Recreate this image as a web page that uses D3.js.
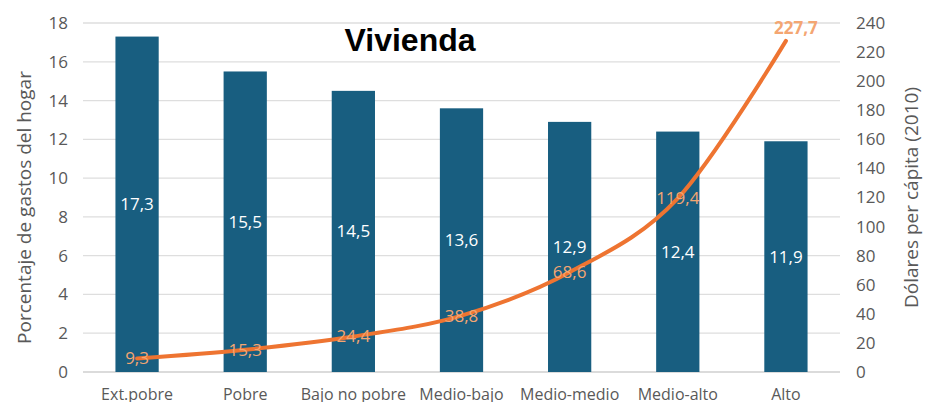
<!DOCTYPE html>
<html>
<head>
<meta charset="utf-8">
<script src="https://cdn.jsdelivr.net/npm/d3@7"></script>
<style>
  body { margin: 0; background: #fff; }
  text { font-family: "Open Sans", "Noto Sans", sans-serif; }
</style>
</head>
<body>
<div id="chart"></div>
<script>
// data
var categories = ["Ext.pobre", "Pobre", "Bajo no pobre", "Medio-bajo", "Medio-medio", "Medio-alto", "Alto"];
var pctGasto = [17.3, 15.5, 14.5, 13.6, 12.9, 12.4, 11.9];
var dolares = [9.3, 15.3, 24.4, 38.8, 68.6, 119.4, 227.7];
var leftTicks = [0, 2, 4, 6, 8, 10, 12, 14, 16, 18];
var rightTicks = [0, 20, 40, 60, 80, 100, 120, 140, 160, 180, 200, 220, 240];

var svgWidth = 934, svgHeight = 402;
var margin = { top: 23, right: 94, bottom: 30, left: 83 };
var width = svgWidth - margin.left - margin.right;
var height = svgHeight - margin.top - margin.bottom;

var fmt = function(v) { return d3.format(".1f")(v).replace(".", ","); };

var svg = d3.select("#chart").append("svg")
  .attr("width", svgWidth)
  .attr("height", svgHeight);
var chartGroup = svg.append("g")
  .attr("transform", `translate(${margin.left}, ${margin.top})`);

// scales
var x = d3.scaleBand().domain(categories).range([0, width]).paddingInner(0.6).paddingOuter(0.3);
var yLeft = d3.scaleLinear().domain([0, 18]).range([height, 0]);
var yRight = d3.scaleLinear().domain([0, 240]).range([height, 0]);

// gridlines
chartGroup.append("g").selectAll("line")
  .data(leftTicks)
  .enter().append("line")
  .attr("x1", 0).attr("x2", width)
  .attr("y1", d => yLeft(d)).attr("y2", d => yLeft(d))
  .attr("stroke", d => d === 0 ? "#cfcfcf" : "#dedede")
  .attr("stroke-width", 1.3);

// axes
var leftAxis = d3.axisLeft(yLeft).tickValues(leftTicks).tickSize(0).tickPadding(15);
var rightAxis = d3.axisRight(yRight).tickValues(rightTicks).tickSize(0).tickPadding(16);
var bottomAxis = d3.axisBottom(x).tickSize(0).tickPadding(17);

var gl = chartGroup.append("g").call(leftAxis);
var gr = chartGroup.append("g").attr("transform", `translate(${width}, 0)`).call(rightAxis);
var gb = chartGroup.append("g").attr("transform", `translate(0, ${height})`).call(bottomAxis);
[gl, gr, gb].forEach(function(g) {
  g.select(".domain").remove();
  g.selectAll("text").attr("fill", "#595959").style("font-size", "17px")
    .style("font-family", "'Open Sans', sans-serif");
});
gb.selectAll("text").style("font-size", "16px");

// bars
chartGroup.selectAll("rect.bar")
  .data(pctGasto)
  .enter().append("rect")
  .attr("class", "bar")
  .attr("x", (d, i) => x(categories[i]))
  .attr("y", d => yLeft(d))
  .attr("width", x.bandwidth())
  .attr("height", d => height - yLeft(d))
  .attr("fill", "#185e80");

chartGroup.selectAll("text.barlabel")
  .data(pctGasto)
  .enter().append("text")
  .attr("class", "barlabel")
  .attr("x", (d, i) => x(categories[i]) + x.bandwidth() / 2)
  .attr("y", d => (yLeft(d) + height) / 2)
  .attr("dy", "0.35em")
  .attr("text-anchor", "middle")
  .attr("fill", "#ffffff")
  .style("font-size", "17px")
  .text(d => fmt(d));

// line
var line = d3.line()
  .x((d, i) => x(categories[i]) + x.bandwidth() / 2)
  .y(d => yRight(d))
  .curve(d3.curveCardinal.tension(0));

chartGroup.append("path")
  .datum(dolares)
  .attr("d", line)
  .attr("fill", "none")
  .attr("stroke", "#ee7431")
  .attr("stroke-width", 4)
  .attr("stroke-linecap", "round");

chartGroup.selectAll("text.linelabel")
  .data(dolares)
  .enter().append("text")
  .attr("class", "linelabel")
  .attr("x", (d, i) => x(categories[i]) + x.bandwidth() / 2 + (i === dolares.length - 1 ? 10 : 0))
  .attr("y", (d, i) => yRight(d) + (i === dolares.length - 1 ? -13 : 0))
  .attr("dy", "0.35em")
  .attr("text-anchor", "middle")
  .attr("fill", "#f4a672")
  .style("font-size", "17px")
  .style("font-weight", (d, i) => i === dolares.length - 1 ? "bold" : "normal")
  .text(d => fmt(d));

// title
svg.append("text")
  .attr("x", 410)
  .attr("y", 51)
  .attr("text-anchor", "middle")
  .attr("fill", "#000")
  .style("font-size", "32px")
  .style("font-weight", "bold")
  .style("font-family", "'Liberation Sans', Arial, sans-serif")
  .text("Vivienda");

// axis titles
svg.append("text")
  .attr("transform", `translate(31, ${margin.top + height / 2 + 10}) rotate(-90)`)
  .attr("text-anchor", "middle")
  .attr("fill", "#595959")
  .style("font-size", "19px")
  .text("Porcentaje de gastos del hogar");

svg.append("text")
  .attr("transform", `translate(911, ${margin.top + height / 2}) rotate(-90)`)
  .attr("text-anchor", "middle")
  .attr("dy", "0.35em")
  .attr("fill", "#595959")
  .style("font-size", "19px")
  .text("Dólares per cápita (2010)");
</script>
</body>
</html>
